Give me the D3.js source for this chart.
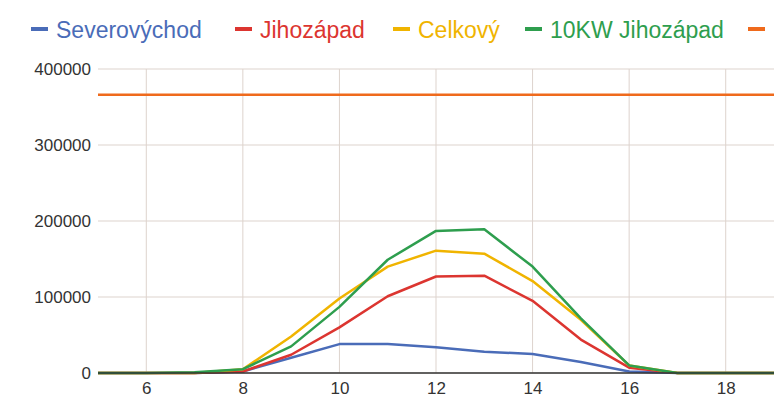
<!DOCTYPE html>
<html>
<head>
<meta charset="utf-8">
<script src="https://cdn.jsdelivr.net/npm/d3@7"></script>
<style>
  body { margin: 0; background: #fff; }
  svg { display: block; font-family: "Liberation Sans", Arial, sans-serif; }
</style>
</head>
<body>
<svg id="chart"></svg>
<script>
// data
var hours = [5, 6, 7, 8, 9, 10, 11, 12, 13, 14, 15, 16, 17, 18, 19]
var severovychod = [0, 0, 0, 2000, 20000, 38000, 38000, 34000, 28000, 25000, 14500, 2000, 0, 0, 0]
var jihozapad = [0, 0, 0, 2000, 24000, 60000, 101000, 127000, 128000, 95000, 44000, 7000, 0, 0, 0]
var celkovy = [0, 0, 0, 5000, 48000, 98000, 140000, 161000, 157000, 121000, 70000, 10000, 0, 0, 0]
var kw10 = [0, 0, 1000, 5000, 35000, 87000, 149000, 187000, 189000, 140000, 72000, 10000, 0, 0, 0]
var limit = [366000, 366000, 366000, 366000, 366000, 366000, 366000, 366000, 366000, 366000, 366000, 366000, 366000, 366000, 366000]

var seriesNames = ["Severovýchod", "Jihozápad", "Celkový", "10KW Jihozápad", ""]
var seriesValues = [severovychod, jihozapad, celkovy, kw10, limit]
var colors = ["#4a6cb8", "#dc3530", "#f0b400", "#2e9e4e", "#ef6a1c"]
var xTicks = [6, 8, 10, 12, 14, 16, 18]
var yTicks = [0, 100000, 200000, 300000, 400000]

var width = 781, height = 401
var margin = { left: 98, right: 7, top: 69, bottom: 28 }

var svg = d3.select('#chart').attr('width', width).attr('height', height)

var x = d3.scaleLinear().domain([5, 19]).range([margin.left, width - margin.right])
var y = d3.scaleLinear().domain([0, 400000]).range([height - margin.bottom, margin.top])

// gridlines
var grid = svg.append('g')
grid.selectAll('line.h').data(yTicks).enter().append('line')
  .attr('x1', x(5)).attr('x2', x(19))
  .attr('y1', function (d) { return y(d) }).attr('y2', function (d) { return y(d) })
  .attr('stroke', '#ddd3cd').attr('stroke-width', 1)
grid.selectAll('line.v').data(xTicks).enter().append('line')
  .attr('y1', y(0)).attr('y2', y(400000))
  .attr('x1', function (d) { return x(d) }).attr('x2', function (d) { return x(d) })
  .attr('stroke', '#ddd3cd').attr('stroke-width', 1)

// axes labels
var yAxis = d3.axisLeft(y).tickValues(yTicks).tickSize(0).tickPadding(7).tickFormat(d3.format('d'))
svg.append('g').attr('transform', 'translate(' + margin.left + ',0)').call(yAxis)
  .call(function (g) { g.select('.domain').remove() })
  .selectAll('text').attr('font-size', 17).attr('fill', '#333')

var xAxis = d3.axisBottom(x).tickValues(xTicks).tickSize(0).tickPadding(9)
svg.append('g').attr('transform', 'translate(0,' + y(0) + ')').call(xAxis)
  .call(function (g) { g.select('.domain').remove() })
  .selectAll('text').attr('font-size', 17).attr('fill', '#333')

// lines
var line = d3.line()
  .x(function (d, i) { return x(hours[i]) })
  .y(function (d) { return y(d) })

seriesValues.forEach(function (vals, i) {
  svg.append('path').datum(vals)
    .attr('fill', 'none')
    .attr('stroke', colors[i])
    .attr('stroke-width', 2.5)
    .attr('stroke-linejoin', 'round')
    .attr('d', line)
})

// baseline
svg.append('line')
  .attr('x1', x(5)).attr('x2', x(19))
  .attr('y1', y(0)).attr('y2', y(0))
  .attr('stroke', '#333').attr('stroke-width', 1.5)

// legend
var legendX = [31, 235, 393, 525, 748]
var legend = svg.append('g')
seriesNames.forEach(function (name, i) {
  legend.append('rect')
    .attr('x', legendX[i]).attr('y', 27)
    .attr('width', 17).attr('height', 4)
    .attr('fill', colors[i])
  legend.append('text')
    .attr('x', legendX[i] + 25).attr('y', 38)
    .attr('font-size', 23)
    .attr('fill', colors[i])
    .text(name)
})
</script>
</body>
</html>
